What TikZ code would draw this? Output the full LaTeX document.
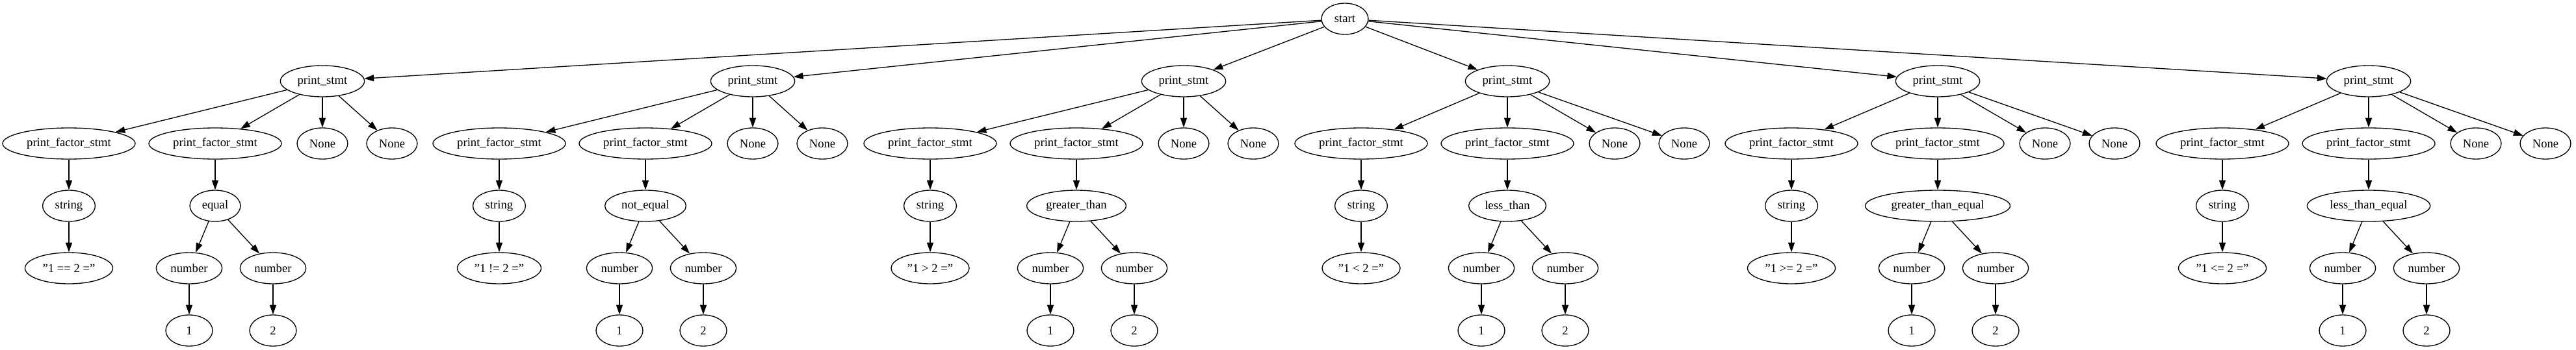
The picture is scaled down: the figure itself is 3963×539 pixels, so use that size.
\documentclass[tikz,border=0pt]{standalone}
\usepackage{fontspec}
\setmainfont{Liberation Serif}
\usetikzlibrary{arrows.meta, shapes.geometric}

\begin{document}
\begin{tikzpicture}[x=0.75pt, y=-0.75pt,
  every node/.style={font=\fontsize{14}{16}\selectfont},
  tnode/.style={draw, ellipse, line width=1pt, inner xsep=5.5pt, inner ysep=2pt, minimum width=54pt, minimum height=36pt},
  arr/.style={line width=1pt, -{Triangle[length=11pt, width=7.5pt]}}]
  \useasboundingbox (0,0) rectangle (3963,539);
  \node[tnode] (start) at (2069,29) {start};
  % one print_stmt subtree per comparison
  \foreach \bx/\dx/\op/\txt [count=\i] in {
      106/390/equal/{"1 == 2 ="},
      768/390/not\_equal/{"1 != 2 ="},
      1431/390/greater\_than/{"1 > 2 ="},
      2094/225/less\_than/{"1 < 2 ="},
      2756/225/greater\_than\_equal/{"1 >= 2 ="},
      3419/225/less\_than\_equal/{"1 <= 2 ="}} {
    \node[tnode] (ps\i) at (\bx+\dx,125) {print\_stmt};
    \node[tnode] (pfa\i) at (\bx,221) {print\_factor\_stmt};
    \node[tnode] (pfb\i) at (\bx+225,221) {print\_factor\_stmt};
    \node[tnode] (nonea\i) at (\bx+390,221) {None};
    \node[tnode] (noneb\i) at (\bx+497,221) {None};
    \node[tnode] (str\i) at (\bx,317) {string};
    \node[tnode] (lit\i) at (\bx,413) {\txt};
    \node[tnode] (op\i) at (\bx+225,317) {\op};
    \node[tnode] (numa\i) at (\bx+185,413) {number};
    \node[tnode] (numb\i) at (\bx+314,413) {number};
    \node[tnode] (one\i) at (\bx+185,509) {1};
    \node[tnode] (two\i) at (\bx+314,509) {2};
    \draw[arr] (start) -- (ps\i);
    \draw[arr] (ps\i) -- (pfa\i);
    \draw[arr] (ps\i) -- (pfb\i);
    \draw[arr] (ps\i) -- (nonea\i);
    \draw[arr] (ps\i) -- (noneb\i);
    \draw[arr] (pfa\i) -- (str\i);
    \draw[arr] (str\i) -- (lit\i);
    \draw[arr] (pfb\i) -- (op\i);
    \draw[arr] (op\i) -- (numa\i);
    \draw[arr] (op\i) -- (numb\i);
    \draw[arr] (numa\i) -- (one\i);
    \draw[arr] (numb\i) -- (two\i);
  }
\end{tikzpicture}
\end{document}
